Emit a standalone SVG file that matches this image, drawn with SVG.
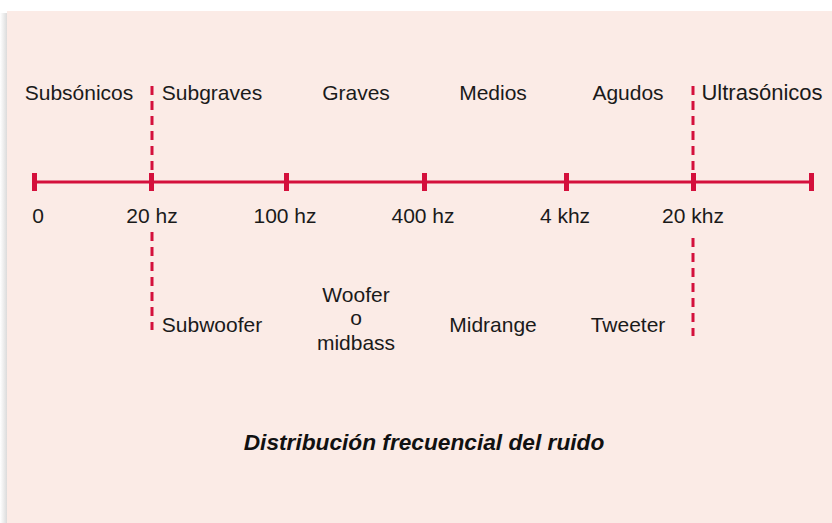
<svg xmlns="http://www.w3.org/2000/svg" width="832" height="523" viewBox="0 0 832 523">
<defs>
<linearGradient id="sh" x1="0" y1="0" x2="1" y2="0">
<stop offset="0" stop-color="#ffffff"/>
<stop offset="1" stop-color="#d6d6d6"/>
</linearGradient>
<style>
.t{font-family:"Liberation Sans",Arial,sans-serif;font-size:21px;fill:#1a1a1a;text-anchor:middle}
.ttl{font-family:"Liberation Sans",Arial,sans-serif;font-size:22.7px;font-weight:bold;font-style:italic;fill:#111;text-anchor:middle}
.axis{stroke:#d4103c;stroke-width:3;fill:none}
.tick{fill:#d4103c}
.dash{stroke:#d4103c;stroke-width:3;stroke-dasharray:9 6;fill:none}
</style>
</defs>
<rect x="0" y="0" width="832" height="523" fill="#ffffff"/>
<rect x="0" y="13" width="8" height="510" fill="url(#sh)"/>
<rect x="7" y="11" width="825" height="512" fill="#fbebe6"/>

<g id="connectors">
<line class="axis" x1="34" y1="182" x2="811" y2="182"/>
<line class="dash" x1="152" y1="86" x2="152" y2="172"/>
<line class="dash" x1="152" y1="232" x2="152" y2="330"/>
<line class="dash" x1="693" y1="86" x2="693" y2="172"/>
<line class="dash" x1="693" y1="238" x2="693" y2="336"/>
</g>

<g id="ticks">
<rect class="tick" x="32" y="173" width="5" height="18"/>
<rect class="tick" x="149" y="173" width="5" height="18"/>
<rect class="tick" x="284" y="173" width="5" height="18"/>
<rect class="tick" x="422" y="173" width="5" height="18"/>
<rect class="tick" x="564" y="173" width="5" height="18"/>
<rect class="tick" x="691" y="173" width="5" height="18"/>
<rect class="tick" x="809" y="173" width="5" height="18"/>
</g>

<g id="bands">
<text class="t" x="79" y="100">Subsónicos</text>
<text class="t" x="212" y="100">Subgraves</text>
<text class="t" x="356" y="100">Graves</text>
<text class="t" x="493" y="100">Medios</text>
<text class="t" x="628" y="100">Agudos</text>
<text class="t" x="762" y="100" style="font-size:22px">Ultrasónicos</text>
</g>

<g id="frequencies">
<text class="t" x="38" y="223">0</text>
<text class="t" x="152" y="223">20 hz</text>
<text class="t" x="285" y="223">100 hz</text>
<text class="t" x="423" y="223">400 hz</text>
<text class="t" x="565" y="223">4 khz</text>
<text class="t" x="693" y="223">20 khz</text>
</g>

<g id="speakers">
<text class="t" x="212" y="332">Subwoofer</text>
<text class="t" x="356" y="302">Woofer</text>
<text class="t" x="356" y="325">o</text>
<text class="t" x="356" y="350">midbass</text>
<text class="t" x="493" y="332">Midrange</text>
<text class="t" x="628" y="332">Tweeter</text>
</g>

<g id="title">
<text class="ttl" x="424" y="450">Distribución frecuencial del ruido</text>
</g>
</svg>
